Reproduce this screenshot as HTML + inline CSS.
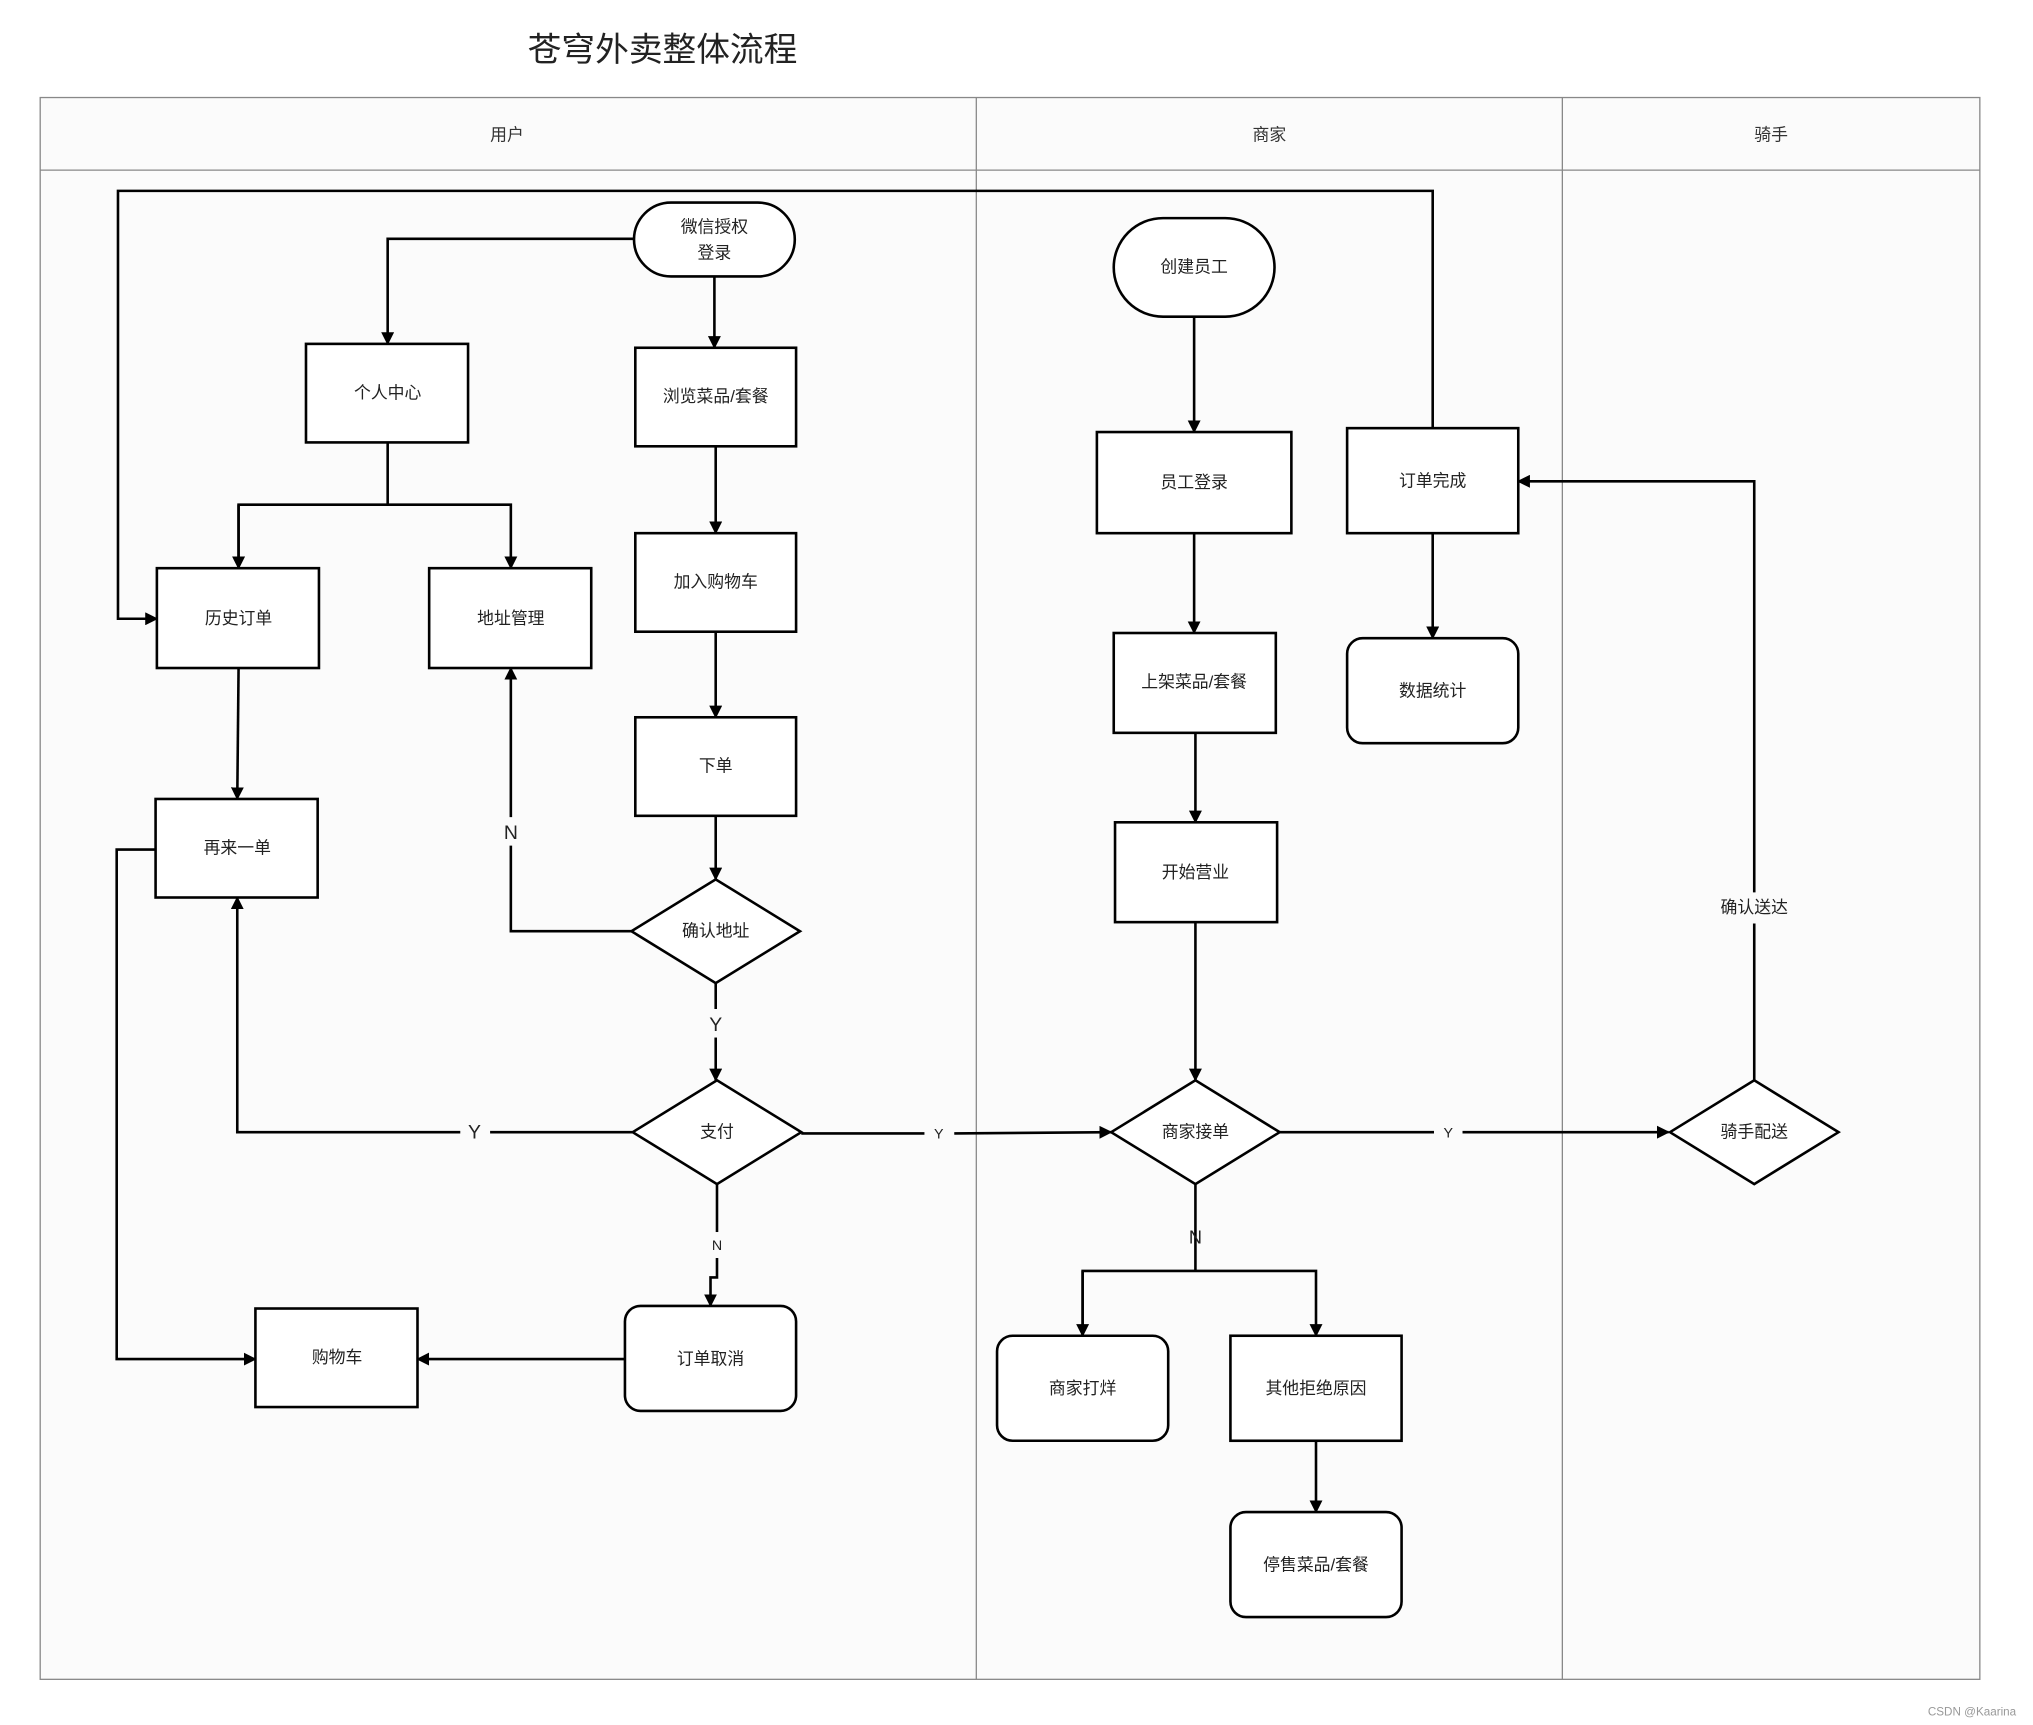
<!DOCTYPE html>
<html><head><meta charset="utf-8"><style>
html,body{margin:0;padding:0;background:#fff;}
svg{display:block;}
text{font-family:"Liberation Sans","Noto Sans CJK SC",sans-serif;}
</style></head><body>
<svg width="2033" height="1725" viewBox="0 0 1568 1330" xmlns="http://www.w3.org/2000/svg">
<defs>
<marker id="a" markerWidth="10" markerHeight="10" refX="9" refY="5" orient="auto" markerUnits="userSpaceOnUse">
<path d="M0,0 L10,5 L0,10 z" fill="#000"/></marker>
</defs>
<rect width="1568" height="1330" fill="#fff"/>
<text x="511" y="47" font-size="26" text-anchor="middle" fill="#222">苍穹外卖整体流程</text>
<rect x="31" y="75" width="1496" height="1220" fill="#fbfbfb" stroke="#888" stroke-width="1"/>
<line x1="31" y1="131" x2="1527" y2="131" stroke="#888"/>
<line x1="753" y1="75" x2="753" y2="1295" stroke="#888"/>
<line x1="1205" y1="75" x2="1205" y2="1295" stroke="#888"/>
<g font-size="13" text-anchor="middle" fill="#333">
<text x="391" y="108">用户</text><text x="979" y="108">商家</text><text x="1366" y="108">骑手</text>
</g>

<g fill="none" stroke="#000" stroke-width="2">
<!-- connectors -->
<polyline points="489,184 299,184 299,265" marker-end="url(#a)"/>
<line x1="551" y1="213" x2="551" y2="268" marker-end="url(#a)"/>
<line x1="552" y1="344" x2="552" y2="411" marker-end="url(#a)"/>
<line x1="552" y1="487" x2="552" y2="553" marker-end="url(#a)"/>
<line x1="552" y1="629" x2="552" y2="678" marker-end="url(#a)"/>
<line x1="299" y1="341" x2="299" y2="389"/>
<polyline points="184,438 184,389 394,389 394,438" marker-end="url(#a)"/>
<line x1="184" y1="389" x2="184" y2="438" marker-end="url(#a)"/>
<polyline points="487,718 394,718 394,652"/>
<line x1="394" y1="630" x2="394" y2="515" marker-end="url(#a)"/>
<line x1="552" y1="758" x2="552" y2="778"/>
<line x1="552" y1="800" x2="552" y2="833" marker-end="url(#a)"/>
<line x1="488" y1="873" x2="378" y2="873"/>
<polyline points="355,873 183,873 183,692" marker-end="url(#a)"/>
<line x1="618" y1="874" x2="713" y2="874"/>
<line x1="736" y1="874" x2="857" y2="873" marker-end="url(#a)"/>
<line x1="553" y1="913" x2="553" y2="950"/>
<polyline points="553,970 553,985 548,985 548,1007" marker-end="url(#a)"/>
<line x1="482" y1="1048" x2="322" y2="1048" marker-end="url(#a)"/>
<polyline points="120,655 90,655 90,1048 197,1048" marker-end="url(#a)"/>
<line x1="184" y1="515" x2="183" y2="616" marker-end="url(#a)"/>
<polyline points="1105,330 1105,147 91,147 91,477 121,477" marker-end="url(#a)"/>
<line x1="921" y1="244" x2="921" y2="333" marker-end="url(#a)"/>
<line x1="921" y1="411" x2="921" y2="488" marker-end="url(#a)"/>
<line x1="922" y1="565" x2="922" y2="634" marker-end="url(#a)"/>
<line x1="922" y1="711" x2="922" y2="833" marker-end="url(#a)"/>
<line x1="987" y1="873" x2="1106" y2="873"/>
<line x1="1128" y1="873" x2="1287" y2="873" marker-end="url(#a)"/>
<line x1="922" y1="913" x2="922" y2="980"/>
<polyline points="835,1030 835,980 1015,980 1015,1030" marker-end="url(#a)"/>
<line x1="835" y1="980" x2="835" y2="1030" marker-end="url(#a)"/>
<line x1="1015" y1="1111" x2="1015" y2="1166" marker-end="url(#a)"/>
<polyline points="1353,833 1353,712"/>
<polyline points="1353,688 1353,371 1171,371" marker-end="url(#a)"/>
<line x1="1105" y1="411" x2="1105" y2="492" marker-end="url(#a)"/>
</g>

<g fill="#fff" stroke="#000" stroke-width="2">
<rect x="489" y="156" width="124" height="57" rx="28.5"/>
<rect x="236" y="265" width="125" height="76"/>
<rect x="490" y="268" width="124" height="76"/>
<rect x="490" y="411" width="124" height="76"/>
<rect x="490" y="553" width="124" height="76"/>
<polygon points="487,718 552,678 617,718 552,758"/>
<rect x="121" y="438" width="125" height="77"/>
<rect x="331" y="438" width="125" height="77"/>
<rect x="120" y="616" width="125" height="76"/>
<polygon points="488,873 553,833 618,873 553,913"/>
<rect x="482" y="1007" width="132" height="81" rx="12"/>
<rect x="197" y="1009" width="125" height="76"/>
<rect x="859" y="168" width="124" height="76" rx="38"/>
<rect x="846" y="333" width="150" height="78"/>
<rect x="859" y="488" width="125" height="77"/>
<rect x="860" y="634" width="125" height="77"/>
<polygon points="857,873 922,833 987,873 922,913"/>
<rect x="769" y="1030" width="132" height="81" rx="12"/>
<rect x="949" y="1030" width="132" height="81"/>
<rect x="949" y="1166" width="132" height="81" rx="12"/>
<rect x="1039" y="330" width="132" height="81"/>
<rect x="1039" y="492" width="132" height="81" rx="12"/>
<polygon points="1288,873 1353,833 1418,873 1353,913"/>
</g>

<g font-size="13" text-anchor="middle" fill="#222">
<text x="551" y="179">微信授权</text><text x="551" y="199">登录</text>
<text x="299" y="307">个人中心</text>
<text x="552" y="310">浏览菜品/套餐</text>
<text x="552" y="453">加入购物车</text>
<text x="552" y="595">下单</text>
<text x="552" y="722">确认地址</text>
<text x="184" y="481">历史订单</text>
<text x="394" y="481">地址管理</text>
<text x="183" y="658">再来一单</text>
<text x="553" y="877">支付</text>
<text x="548" y="1052">订单取消</text>
<text x="260" y="1051">购物车</text>
<text x="921" y="210">创建员工</text>
<text x="921" y="376">员工登录</text>
<text x="921" y="530">上架菜品/套餐</text>
<text x="922" y="677">开始营业</text>
<text x="922" y="877">商家接单</text>
<text x="835" y="1075">商家打烊</text>
<text x="1015" y="1075">其他拒绝原因</text>
<text x="1015" y="1211">停售菜品/套餐</text>
<text x="1105" y="375">订单完成</text>
<text x="1105" y="537">数据统计</text>
<text x="1353" y="877">骑手配送</text>
<text x="1353" y="704">确认送达</text>
</g>
<g text-anchor="middle" fill="#222">
<text x="394" y="647" font-size="15">N</text>
<text x="552" y="795" font-size="15">Y</text>
<text x="366" y="878" font-size="15">Y</text>
<text x="724" y="878" font-size="11">Y</text>
<text x="553" y="964" font-size="11">N</text>
<text x="1117" y="877" font-size="11">Y</text>
<text x="922" y="959" font-size="14">N</text>
</g>
<text x="1555" y="1323" font-size="9" text-anchor="end" fill="#999">CSDN @Kaarina</text>
</svg>
</body></html>
